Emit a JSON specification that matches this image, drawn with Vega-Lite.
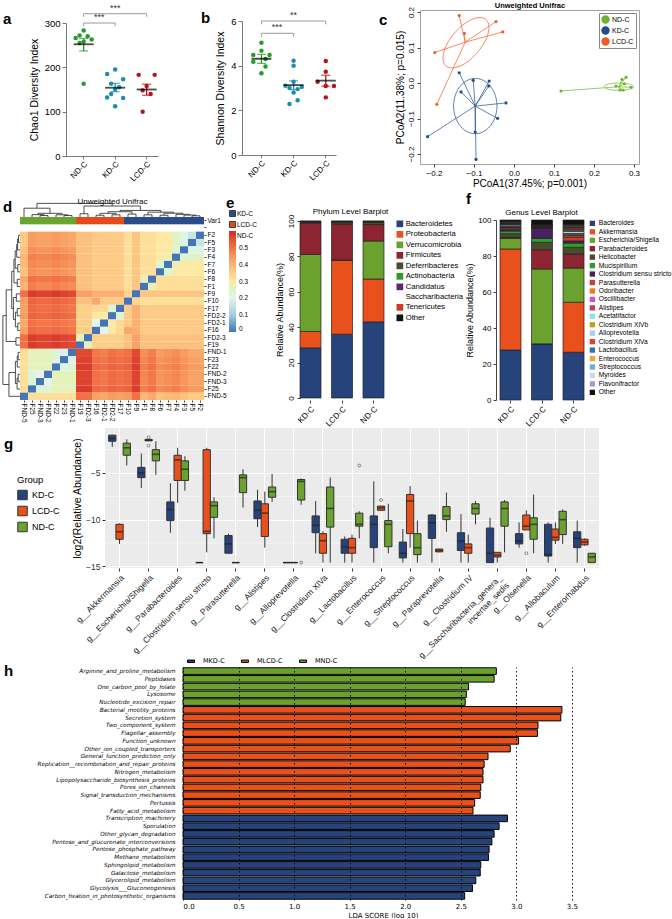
{
"$schema": "https://vega.github.io/schema/vega-lite/v6.json",
"padding": {"left": 2, "top": 0, "right": 0, "bottom": 0},
"background": "white",
"config": {
  "font": "Liberation Sans",
  "view": {"stroke": null},
  "axis": {"labelFont": "Liberation Sans", "titleFont": "Liberation Sans", "labelColor": "#000", "titleColor": "#000", "titleFontWeight": "normal", "grid": false, "domainColor": "#444", "tickColor": "#444"},
  "legend": {"labelFont": "Liberation Sans", "titleFont": "Liberation Sans", "labelColor": "#000"},
  "title": {"font": "Liberation Sans", "fontWeight": "bold", "fontSize": 15, "anchor": "start", "frame": "group", "baseline": "alphabetic", "offset": 0, "color": "#000"}
},
"datasets": {
  "sp": [{"z": 1}],
  "aPts": [
    {"g":"ND-C","v":283,"s":"3"},{"g":"ND-C","v":272,"s":"2"},{"g":"ND-C","v":266,"s":"1"},{"g":"ND-C","v":270,"s":"4"},{"g":"ND-C","v":263,"s":"5"},{"g":"ND-C","v":258,"s":"3"},{"g":"ND-C","v":255,"s":"2"},{"g":"ND-C","v":163,"s":"3"},
    {"g":"KD-C","v":195,"s":"3"},{"g":"KD-C","v":185,"s":"1"},{"g":"KD-C","v":173,"s":"5"},{"g":"KD-C","v":163,"s":"2"},{"g":"KD-C","v":155,"s":"4"},{"g":"KD-C","v":150,"s":"3"},{"g":"KD-C","v":140,"s":"2"},{"g":"KD-C","v":132,"s":"1"},{"g":"KD-C","v":131,"s":"5"},{"g":"KD-C","v":112,"s":"3"},
    {"g":"LCD-C","v":183,"s":"1"},{"g":"LCD-C","v":183,"s":"5"},{"g":"LCD-C","v":158,"s":"3"},{"g":"LCD-C","v":148,"s":"2"},{"g":"LCD-C","v":140,"s":"4"},{"g":"LCD-C","v":100,"s":"2"}
  ],
  "aSum": [{"g":"ND-C","m":252,"lo":237,"hi":265},{"g":"KD-C","m":154,"lo":145,"hi":164},{"g":"LCD-C","m":150,"lo":137,"hi":162}],
  "aBr": [{"a":"ND-C","b":"KD-C","y":300,"yd":293},{"a":"ND-C","b":"LCD-C","y":321,"yd":314}],
  "bPts": [
    {"g":"ND-C","v":5.03,"s":"3"},{"g":"ND-C","v":4.67,"s":"3"},{"g":"ND-C","v":4.48,"s":"1"},{"g":"ND-C","v":4.48,"s":"5"},{"g":"ND-C","v":4.3,"s":"4"},{"g":"ND-C","v":4.18,"s":"1"},{"g":"ND-C","v":3.96,"s":"4"},{"g":"ND-C","v":3.66,"s":"3"},
    {"g":"KD-C","v":4.22,"s":"3"},{"g":"KD-C","v":4.0,"s":"3"},{"g":"KD-C","v":3.28,"s":"3"},{"g":"KD-C","v":3.1,"s":"1"},{"g":"KD-C","v":3.05,"s":"5"},{"g":"KD-C","v":3.0,"s":"2"},{"g":"KD-C","v":2.95,"s":"4"},{"g":"KD-C","v":2.8,"s":"3"},{"g":"KD-C","v":2.45,"s":"4"},{"g":"KD-C","v":2.28,"s":"2"},
    {"g":"LCD-C","v":4.21,"s":"3"},{"g":"LCD-C","v":3.73,"s":"3"},{"g":"LCD-C","v":3.28,"s":"1"},{"g":"LCD-C","v":3.09,"s":"5"},{"g":"LCD-C","v":3.09,"s":"3"},{"g":"LCD-C","v":2.58,"s":"3"}
  ],
  "bSum": [{"g":"ND-C","m":4.31,"lo":4.1,"hi":4.51},{"g":"KD-C","m":3.13,"lo":2.93,"hi":3.32},{"g":"LCD-C","m":3.33,"lo":3.08,"hi":3.57}],
  "bBr": [{"a":"ND-C","b":"KD-C","y":5.45,"yd":5.3},{"a":"ND-C","b":"LCD-C","y":6.0,"yd":5.85}],
  "pcPts": [
    {"g":"LCD-C","x":-0.137,"y":0.19,"cx":-0.122,"cy":0.115},{"g":"LCD-C","x":-0.045,"y":0.173,"cx":-0.122,"cy":0.115},{"g":"LCD-C","x":-0.124,"y":0.14,"cx":-0.122,"cy":0.115},{"g":"LCD-C","x":-0.028,"y":0.144,"cx":-0.122,"cy":0.115},{"g":"LCD-C","x":-0.198,"y":0.086,"cx":-0.122,"cy":0.115},{"g":"LCD-C","x":-0.193,"y":-0.06,"cx":-0.122,"cy":0.115},
    {"g":"KD-C","x":-0.137,"y":0.029,"cx":-0.097,"cy":-0.065},{"g":"KD-C","x":-0.102,"y":0.0075,"cx":-0.097,"cy":-0.065},{"g":"KD-C","x":-0.062,"y":0.0056,"cx":-0.097,"cy":-0.065},{"g":"KD-C","x":-0.063,"y":-0.0085,"cx":-0.097,"cy":-0.065},{"g":"KD-C","x":-0.1325,"y":-0.025,"cx":-0.097,"cy":-0.065},{"g":"KD-C","x":-0.02,"y":-0.056,"cx":-0.097,"cy":-0.065},{"g":"KD-C","x":-0.041,"y":-0.0995,"cx":-0.097,"cy":-0.065},{"g":"KD-C","x":-0.097,"y":-0.138,"cx":-0.097,"cy":-0.065},{"g":"KD-C","x":-0.095,"y":-0.215,"cx":-0.097,"cy":-0.065},{"g":"KD-C","x":-0.216,"y":-0.151,"cx":-0.097,"cy":-0.065},
    {"g":"ND-C","x":0.1175,"y":-0.0225,"cx":0.262,"cy":-0.0104},{"g":"ND-C","x":0.28,"y":0.016,"cx":0.262,"cy":-0.0104},{"g":"ND-C","x":0.27,"y":0.0104,"cx":0.262,"cy":-0.0104},{"g":"ND-C","x":0.276,"y":-0.002,"cx":0.262,"cy":-0.0104},{"g":"ND-C","x":0.255,"y":-0.0085,"cx":0.262,"cy":-0.0104},{"g":"ND-C","x":0.265,"y":-0.0197,"cx":0.262,"cy":-0.0104},{"g":"ND-C","x":0.273,"y":-0.0197,"cx":0.262,"cy":-0.0104},{"g":"ND-C","x":0.2925,"y":-0.012,"cx":0.262,"cy":-0.0104}
  ],
  "pcEll": [
    {"g":"LCD-C","t":0,"x":-0.07,"y":0.179},{"g":"LCD-C","t":1,"x":-0.0625,"y":0.157},{"g":"LCD-C","t":2,"x":-0.07,"y":0.1225},{"g":"LCD-C","t":3,"x":-0.0915,"y":0.086},{"g":"LCD-C","t":4,"x":-0.12,"y":0.0566},{"g":"LCD-C","t":5,"x":-0.149,"y":0.043},{"g":"LCD-C","t":6,"x":-0.17,"y":0.0476},{"g":"LCD-C","t":7,"x":-0.1775,"y":0.0704},{"g":"LCD-C","t":8,"x":-0.17,"y":0.1045},{"g":"LCD-C","t":9,"x":-0.1485,"y":0.141},{"g":"LCD-C","t":10,"x":-0.12,"y":0.17},{"g":"LCD-C","t":11,"x":-0.091,"y":0.184},
    {"g":"KD-C","t":0,"x":-0.0425,"y":-0.0648},{"g":"KD-C","t":1,"x":-0.0498,"y":-0.0258},{"g":"KD-C","t":2,"x":-0.0697,"y":0.0027},{"g":"KD-C","t":3,"x":-0.0968,"y":0.0132},{"g":"KD-C","t":4,"x":-0.124,"y":0.0027},{"g":"KD-C","t":5,"x":-0.1438,"y":-0.0258},{"g":"KD-C","t":6,"x":-0.1511,"y":-0.0648},{"g":"KD-C","t":7,"x":-0.1438,"y":-0.1038},{"g":"KD-C","t":8,"x":-0.124,"y":-0.1323},{"g":"KD-C","t":9,"x":-0.0968,"y":-0.1428},{"g":"KD-C","t":10,"x":-0.0697,"y":-0.1323},{"g":"KD-C","t":11,"x":-0.0498,"y":-0.1038},
    {"g":"ND-C","t":0,"x":0.299,"y":-0.0104},{"g":"ND-C","t":1,"x":0.294,"y":-0.0052},{"g":"ND-C","t":2,"x":0.2805,"y":-0.0015},{"g":"ND-C","t":3,"x":0.262,"y":-0.0001},{"g":"ND-C","t":4,"x":0.2435,"y":-0.0015},{"g":"ND-C","t":5,"x":0.23,"y":-0.0052},{"g":"ND-C","t":6,"x":0.225,"y":-0.0104},{"g":"ND-C","t":7,"x":0.23,"y":-0.0156},{"g":"ND-C","t":8,"x":0.2435,"y":-0.0193},{"g":"ND-C","t":9,"x":0.262,"y":-0.0207},{"g":"ND-C","t":10,"x":0.2805,"y":-0.0193},{"g":"ND-C","t":11,"x":0.294,"y":-0.0156}
  ],
  "hmBar": [
    {"r":"Var1","c":"FND-5","grp":"ND-C"},{"r":"Var1","c":"F25","grp":"ND-C"},{"r":"Var1","c":"FND-3","grp":"ND-C"},{"r":"Var1","c":"FND-2","grp":"ND-C"},{"r":"Var1","c":"F22","grp":"ND-C"},{"r":"Var1","c":"F23","grp":"ND-C"},{"r":"Var1","c":"FND-1","grp":"ND-C"},
    {"r":"Var1","c":"F19","grp":"LCD-C"},{"r":"Var1","c":"FD2-3","grp":"LCD-C"},{"r":"Var1","c":"F16","grp":"LCD-C"},{"r":"Var1","c":"FD2-1","grp":"LCD-C"},{"r":"Var1","c":"FD2-2","grp":"LCD-C"},{"r":"Var1","c":"F17","grp":"LCD-C"},
    {"r":"Var1","c":"F10","grp":"KD-C"},{"r":"Var1","c":"F9","grp":"KD-C"},{"r":"Var1","c":"F1","grp":"KD-C"},{"r":"Var1","c":"F8","grp":"KD-C"},{"r":"Var1","c":"F6","grp":"KD-C"},{"r":"Var1","c":"F7","grp":"KD-C"},{"r":"Var1","c":"F4","grp":"KD-C"},{"r":"Var1","c":"F3","grp":"KD-C"},{"r":"Var1","c":"F5","grp":"KD-C"},{"r":"Var1","c":"F2","grp":"KD-C"}
  ],
  "hm": [
{"r":"F2","c":"FND-5","v":0.36},{"r":"F2","c":"F25","v":0.44},{"r":"F2","c":"FND-3","v":0.43},{"r":"F2","c":"FND-2","v":0.43},{"r":"F2","c":"F22","v":0.44},{"r":"F2","c":"F23","v":0.43},{"r":"F2","c":"FND-1","v":0.42},{"r":"F2","c":"F19","v":0.38},{"r":"F2","c":"FD2-3","v":0.38},{"r":"F2","c":"F16","v":0.36},{"r":"F2","c":"FD2-1","v":0.36},{"r":"F2","c":"FD2-2","v":0.36},{"r":"F2","c":"F17","v":0.36},{"r":"F2","c":"F10","v":0.32},{"r":"F2","c":"F9","v":0.37},{"r":"F2","c":"F1","v":0.32},{"r":"F2","c":"F8","v":0.32},{"r":"F2","c":"F6","v":0.3},{"r":"F2","c":"F7","v":0.3},{"r":"F2","c":"F4","v":0.26},{"r":"F2","c":"F3","v":0.22},{"r":"F2","c":"F5","v":0.16},{"r":"F2","c":"F2","v":0},
{"r":"F5","c":"FND-5","v":0.36},{"r":"F5","c":"F25","v":0.44},{"r":"F5","c":"FND-3","v":0.43},{"r":"F5","c":"FND-2","v":0.43},{"r":"F5","c":"F22","v":0.44},{"r":"F5","c":"F23","v":0.43},{"r":"F5","c":"FND-1","v":0.42},{"r":"F5","c":"F19","v":0.38},{"r":"F5","c":"FD2-3","v":0.38},{"r":"F5","c":"F16","v":0.36},{"r":"F5","c":"FD2-1","v":0.36},{"r":"F5","c":"FD2-2","v":0.36},{"r":"F5","c":"F17","v":0.36},{"r":"F5","c":"F10","v":0.32},{"r":"F5","c":"F9","v":0.37},{"r":"F5","c":"F1","v":0.32},{"r":"F5","c":"F8","v":0.32},{"r":"F5","c":"F6","v":0.3},{"r":"F5","c":"F7","v":0.3},{"r":"F5","c":"F4","v":0.26},{"r":"F5","c":"F3","v":0.22},{"r":"F5","c":"F5","v":0},{"r":"F5","c":"F2","v":0.16},
{"r":"F3","c":"FND-5","v":0.38},{"r":"F3","c":"F25","v":0.46},{"r":"F3","c":"FND-3","v":0.45},{"r":"F3","c":"FND-2","v":0.45},{"r":"F3","c":"F22","v":0.46},{"r":"F3","c":"F23","v":0.45},{"r":"F3","c":"FND-1","v":0.44},{"r":"F3","c":"F19","v":0.38},{"r":"F3","c":"FD2-3","v":0.38},{"r":"F3","c":"F16","v":0.36},{"r":"F3","c":"FD2-1","v":0.36},{"r":"F3","c":"FD2-2","v":0.36},{"r":"F3","c":"F17","v":0.36},{"r":"F3","c":"F10","v":0.32},{"r":"F3","c":"F9","v":0.37},{"r":"F3","c":"F1","v":0.32},{"r":"F3","c":"F8","v":0.32},{"r":"F3","c":"F6","v":0.3},{"r":"F3","c":"F7","v":0.3},{"r":"F3","c":"F4","v":0.25},{"r":"F3","c":"F3","v":0},{"r":"F3","c":"F5","v":0.22},{"r":"F3","c":"F2","v":0.22},
{"r":"F4","c":"FND-5","v":0.4},{"r":"F4","c":"F25","v":0.48},{"r":"F4","c":"FND-3","v":0.47},{"r":"F4","c":"FND-2","v":0.47},{"r":"F4","c":"F22","v":0.48},{"r":"F4","c":"F23","v":0.47},{"r":"F4","c":"FND-1","v":0.46},{"r":"F4","c":"F19","v":0.38},{"r":"F4","c":"FD2-3","v":0.38},{"r":"F4","c":"F16","v":0.36},{"r":"F4","c":"FD2-1","v":0.36},{"r":"F4","c":"FD2-2","v":0.36},{"r":"F4","c":"F17","v":0.36},{"r":"F4","c":"F10","v":0.32},{"r":"F4","c":"F9","v":0.37},{"r":"F4","c":"F1","v":0.32},{"r":"F4","c":"F8","v":0.32},{"r":"F4","c":"F6","v":0.3},{"r":"F4","c":"F7","v":0.28},{"r":"F4","c":"F4","v":0},{"r":"F4","c":"F3","v":0.25},{"r":"F4","c":"F5","v":0.26},{"r":"F4","c":"F2","v":0.26},
{"r":"F7","c":"FND-5","v":0.39},{"r":"F7","c":"F25","v":0.47},{"r":"F7","c":"FND-3","v":0.46},{"r":"F7","c":"FND-2","v":0.46},{"r":"F7","c":"F22","v":0.47},{"r":"F7","c":"F23","v":0.46},{"r":"F7","c":"FND-1","v":0.45},{"r":"F7","c":"F19","v":0.38},{"r":"F7","c":"FD2-3","v":0.38},{"r":"F7","c":"F16","v":0.36},{"r":"F7","c":"FD2-1","v":0.36},{"r":"F7","c":"FD2-2","v":0.36},{"r":"F7","c":"F17","v":0.36},{"r":"F7","c":"F10","v":0.32},{"r":"F7","c":"F9","v":0.37},{"r":"F7","c":"F1","v":0.32},{"r":"F7","c":"F8","v":0.32},{"r":"F7","c":"F6","v":0.24},{"r":"F7","c":"F7","v":0},{"r":"F7","c":"F4","v":0.28},{"r":"F7","c":"F3","v":0.3},{"r":"F7","c":"F5","v":0.3},{"r":"F7","c":"F2","v":0.3},
{"r":"F6","c":"FND-5","v":0.38},{"r":"F6","c":"F25","v":0.46},{"r":"F6","c":"FND-3","v":0.45},{"r":"F6","c":"FND-2","v":0.45},{"r":"F6","c":"F22","v":0.46},{"r":"F6","c":"F23","v":0.45},{"r":"F6","c":"FND-1","v":0.44},{"r":"F6","c":"F19","v":0.38},{"r":"F6","c":"FD2-3","v":0.38},{"r":"F6","c":"F16","v":0.36},{"r":"F6","c":"FD2-1","v":0.36},{"r":"F6","c":"FD2-2","v":0.36},{"r":"F6","c":"F17","v":0.36},{"r":"F6","c":"F10","v":0.32},{"r":"F6","c":"F9","v":0.37},{"r":"F6","c":"F1","v":0.32},{"r":"F6","c":"F8","v":0.32},{"r":"F6","c":"F6","v":0},{"r":"F6","c":"F7","v":0.24},{"r":"F6","c":"F4","v":0.3},{"r":"F6","c":"F3","v":0.3},{"r":"F6","c":"F5","v":0.3},{"r":"F6","c":"F2","v":0.3},
{"r":"F8","c":"FND-5","v":0.42},{"r":"F8","c":"F25","v":0.5},{"r":"F8","c":"FND-3","v":0.49},{"r":"F8","c":"FND-2","v":0.49},{"r":"F8","c":"F22","v":0.5},{"r":"F8","c":"F23","v":0.49},{"r":"F8","c":"FND-1","v":0.48},{"r":"F8","c":"F19","v":0.38},{"r":"F8","c":"FD2-3","v":0.38},{"r":"F8","c":"F16","v":0.36},{"r":"F8","c":"FD2-1","v":0.36},{"r":"F8","c":"FD2-2","v":0.36},{"r":"F8","c":"F17","v":0.36},{"r":"F8","c":"F10","v":0.32},{"r":"F8","c":"F9","v":0.37},{"r":"F8","c":"F1","v":0.28},{"r":"F8","c":"F8","v":0},{"r":"F8","c":"F6","v":0.32},{"r":"F8","c":"F7","v":0.32},{"r":"F8","c":"F4","v":0.32},{"r":"F8","c":"F3","v":0.32},{"r":"F8","c":"F5","v":0.32},{"r":"F8","c":"F2","v":0.32},
{"r":"F1","c":"FND-5","v":0.4},{"r":"F1","c":"F25","v":0.48},{"r":"F1","c":"FND-3","v":0.47},{"r":"F1","c":"FND-2","v":0.47},{"r":"F1","c":"F22","v":0.48},{"r":"F1","c":"F23","v":0.47},{"r":"F1","c":"FND-1","v":0.46},{"r":"F1","c":"F19","v":0.38},{"r":"F1","c":"FD2-3","v":0.38},{"r":"F1","c":"F16","v":0.36},{"r":"F1","c":"FD2-1","v":0.36},{"r":"F1","c":"FD2-2","v":0.36},{"r":"F1","c":"F17","v":0.36},{"r":"F1","c":"F10","v":0.32},{"r":"F1","c":"F9","v":0.37},{"r":"F1","c":"F1","v":0},{"r":"F1","c":"F8","v":0.28},{"r":"F1","c":"F6","v":0.32},{"r":"F1","c":"F7","v":0.32},{"r":"F1","c":"F4","v":0.32},{"r":"F1","c":"F3","v":0.32},{"r":"F1","c":"F5","v":0.32},{"r":"F1","c":"F2","v":0.32},
{"r":"F9","c":"FND-5","v":0.5},{"r":"F9","c":"F25","v":0.58},{"r":"F9","c":"FND-3","v":0.57},{"r":"F9","c":"FND-2","v":0.57},{"r":"F9","c":"F22","v":0.58},{"r":"F9","c":"F23","v":0.57},{"r":"F9","c":"FND-1","v":0.56},{"r":"F9","c":"F19","v":0.43},{"r":"F9","c":"FD2-3","v":0.43},{"r":"F9","c":"F16","v":0.41},{"r":"F9","c":"FD2-1","v":0.41},{"r":"F9","c":"FD2-2","v":0.41},{"r":"F9","c":"F17","v":0.41},{"r":"F9","c":"F10","v":0.34},{"r":"F9","c":"F9","v":0},{"r":"F9","c":"F1","v":0.37},{"r":"F9","c":"F8","v":0.37},{"r":"F9","c":"F6","v":0.37},{"r":"F9","c":"F7","v":0.37},{"r":"F9","c":"F4","v":0.37},{"r":"F9","c":"F3","v":0.37},{"r":"F9","c":"F5","v":0.37},{"r":"F9","c":"F2","v":0.37},
{"r":"F10","c":"FND-5","v":0.44},{"r":"F10","c":"F25","v":0.52},{"r":"F10","c":"FND-3","v":0.51},{"r":"F10","c":"FND-2","v":0.51},{"r":"F10","c":"F22","v":0.52},{"r":"F10","c":"F23","v":0.51},{"r":"F10","c":"FND-1","v":0.5},{"r":"F10","c":"F19","v":0.38},{"r":"F10","c":"FD2-3","v":0.38},{"r":"F10","c":"F16","v":0.42},{"r":"F10","c":"FD2-1","v":0.36},{"r":"F10","c":"FD2-2","v":0.36},{"r":"F10","c":"F17","v":0.36},{"r":"F10","c":"F10","v":0},{"r":"F10","c":"F9","v":0.34},{"r":"F10","c":"F1","v":0.32},{"r":"F10","c":"F8","v":0.32},{"r":"F10","c":"F6","v":0.32},{"r":"F10","c":"F7","v":0.32},{"r":"F10","c":"F4","v":0.32},{"r":"F10","c":"F3","v":0.32},{"r":"F10","c":"F5","v":0.32},{"r":"F10","c":"F2","v":0.32},
{"r":"F17","c":"FND-5","v":0.43},{"r":"F17","c":"F25","v":0.51},{"r":"F17","c":"FND-3","v":0.5},{"r":"F17","c":"FND-2","v":0.5},{"r":"F17","c":"F22","v":0.51},{"r":"F17","c":"F23","v":0.5},{"r":"F17","c":"FND-1","v":0.49},{"r":"F17","c":"F19","v":0.35},{"r":"F17","c":"FD2-3","v":0.35},{"r":"F17","c":"F16","v":0.33},{"r":"F17","c":"FD2-1","v":0.33},{"r":"F17","c":"FD2-2","v":0.24},{"r":"F17","c":"F17","v":0},{"r":"F17","c":"F10","v":0.36},{"r":"F17","c":"F9","v":0.41},{"r":"F17","c":"F1","v":0.36},{"r":"F17","c":"F8","v":0.36},{"r":"F17","c":"F6","v":0.36},{"r":"F17","c":"F7","v":0.36},{"r":"F17","c":"F4","v":0.36},{"r":"F17","c":"F3","v":0.36},{"r":"F17","c":"F5","v":0.36},{"r":"F17","c":"F2","v":0.36},
{"r":"FD2-2","c":"FND-5","v":0.44},{"r":"FD2-2","c":"F25","v":0.52},{"r":"FD2-2","c":"FND-3","v":0.51},{"r":"FD2-2","c":"FND-2","v":0.51},{"r":"FD2-2","c":"F22","v":0.52},{"r":"FD2-2","c":"F23","v":0.51},{"r":"FD2-2","c":"FND-1","v":0.5},{"r":"FD2-2","c":"F19","v":0.35},{"r":"FD2-2","c":"FD2-3","v":0.35},{"r":"FD2-2","c":"F16","v":0.3},{"r":"FD2-2","c":"FD2-1","v":0.3},{"r":"FD2-2","c":"FD2-2","v":0},{"r":"FD2-2","c":"F17","v":0.24},{"r":"FD2-2","c":"F10","v":0.36},{"r":"FD2-2","c":"F9","v":0.41},{"r":"FD2-2","c":"F1","v":0.36},{"r":"FD2-2","c":"F8","v":0.36},{"r":"FD2-2","c":"F6","v":0.36},{"r":"FD2-2","c":"F7","v":0.36},{"r":"FD2-2","c":"F4","v":0.36},{"r":"FD2-2","c":"F3","v":0.36},{"r":"FD2-2","c":"F5","v":0.36},{"r":"FD2-2","c":"F2","v":0.36},
{"r":"FD2-1","c":"FND-5","v":0.42},{"r":"FD2-1","c":"F25","v":0.5},{"r":"FD2-1","c":"FND-3","v":0.49},{"r":"FD2-1","c":"FND-2","v":0.49},{"r":"FD2-1","c":"F22","v":0.5},{"r":"FD2-1","c":"F23","v":0.49},{"r":"FD2-1","c":"FND-1","v":0.48},{"r":"FD2-1","c":"F19","v":0.35},{"r":"FD2-1","c":"FD2-3","v":0.35},{"r":"FD2-1","c":"F16","v":0.2},{"r":"FD2-1","c":"FD2-1","v":0},{"r":"FD2-1","c":"FD2-2","v":0.3},{"r":"FD2-1","c":"F17","v":0.33},{"r":"FD2-1","c":"F10","v":0.36},{"r":"FD2-1","c":"F9","v":0.41},{"r":"FD2-1","c":"F1","v":0.36},{"r":"FD2-1","c":"F8","v":0.36},{"r":"FD2-1","c":"F6","v":0.36},{"r":"FD2-1","c":"F7","v":0.36},{"r":"FD2-1","c":"F4","v":0.36},{"r":"FD2-1","c":"F3","v":0.36},{"r":"FD2-1","c":"F5","v":0.36},{"r":"FD2-1","c":"F2","v":0.36},
{"r":"F16","c":"FND-5","v":0.43},{"r":"F16","c":"F25","v":0.51},{"r":"F16","c":"FND-3","v":0.5},{"r":"F16","c":"FND-2","v":0.5},{"r":"F16","c":"F22","v":0.51},{"r":"F16","c":"F23","v":0.5},{"r":"F16","c":"FND-1","v":0.49},{"r":"F16","c":"F19","v":0.35},{"r":"F16","c":"FD2-3","v":0.35},{"r":"F16","c":"F16","v":0},{"r":"F16","c":"FD2-1","v":0.2},{"r":"F16","c":"FD2-2","v":0.3},{"r":"F16","c":"F17","v":0.33},{"r":"F16","c":"F10","v":0.42},{"r":"F16","c":"F9","v":0.41},{"r":"F16","c":"F1","v":0.36},{"r":"F16","c":"F8","v":0.36},{"r":"F16","c":"F6","v":0.36},{"r":"F16","c":"F7","v":0.36},{"r":"F16","c":"F4","v":0.36},{"r":"F16","c":"F3","v":0.36},{"r":"F16","c":"F5","v":0.36},{"r":"F16","c":"F2","v":0.36},
{"r":"FD2-3","c":"FND-5","v":0.5},{"r":"FD2-3","c":"F25","v":0.58},{"r":"FD2-3","c":"FND-3","v":0.57},{"r":"FD2-3","c":"FND-2","v":0.57},{"r":"FD2-3","c":"F22","v":0.58},{"r":"FD2-3","c":"F23","v":0.57},{"r":"FD2-3","c":"FND-1","v":0.56},{"r":"FD2-3","c":"F19","v":0.27},{"r":"FD2-3","c":"FD2-3","v":0},{"r":"FD2-3","c":"F16","v":0.35},{"r":"FD2-3","c":"FD2-1","v":0.35},{"r":"FD2-3","c":"FD2-2","v":0.35},{"r":"FD2-3","c":"F17","v":0.35},{"r":"FD2-3","c":"F10","v":0.38},{"r":"FD2-3","c":"F9","v":0.43},{"r":"FD2-3","c":"F1","v":0.38},{"r":"FD2-3","c":"F8","v":0.38},{"r":"FD2-3","c":"F6","v":0.38},{"r":"FD2-3","c":"F7","v":0.38},{"r":"FD2-3","c":"F4","v":0.38},{"r":"FD2-3","c":"F3","v":0.38},{"r":"FD2-3","c":"F5","v":0.38},{"r":"FD2-3","c":"F2","v":0.38},
{"r":"F19","c":"FND-5","v":0.5},{"r":"F19","c":"F25","v":0.58},{"r":"F19","c":"FND-3","v":0.57},{"r":"F19","c":"FND-2","v":0.57},{"r":"F19","c":"F22","v":0.58},{"r":"F19","c":"F23","v":0.57},{"r":"F19","c":"FND-1","v":0.56},{"r":"F19","c":"F19","v":0},{"r":"F19","c":"FD2-3","v":0.27},{"r":"F19","c":"F16","v":0.35},{"r":"F19","c":"FD2-1","v":0.35},{"r":"F19","c":"FD2-2","v":0.35},{"r":"F19","c":"F17","v":0.35},{"r":"F19","c":"F10","v":0.38},{"r":"F19","c":"F9","v":0.43},{"r":"F19","c":"F1","v":0.38},{"r":"F19","c":"F8","v":0.38},{"r":"F19","c":"F6","v":0.38},{"r":"F19","c":"F7","v":0.38},{"r":"F19","c":"F4","v":0.38},{"r":"F19","c":"F3","v":0.38},{"r":"F19","c":"F5","v":0.38},{"r":"F19","c":"F2","v":0.38},
{"r":"FND-1","c":"FND-5","v":0.32},{"r":"FND-1","c":"F25","v":0.27},{"r":"FND-1","c":"FND-3","v":0.27},{"r":"FND-1","c":"FND-2","v":0.27},{"r":"FND-1","c":"F22","v":0.24},{"r":"FND-1","c":"F23","v":0.19},{"r":"FND-1","c":"FND-1","v":0},{"r":"FND-1","c":"F19","v":0.56},{"r":"FND-1","c":"FD2-3","v":0.56},{"r":"FND-1","c":"F16","v":0.49},{"r":"FND-1","c":"FD2-1","v":0.48},{"r":"FND-1","c":"FD2-2","v":0.5},{"r":"FND-1","c":"F17","v":0.49},{"r":"FND-1","c":"F10","v":0.5},{"r":"FND-1","c":"F9","v":0.56},{"r":"FND-1","c":"F1","v":0.46},{"r":"FND-1","c":"F8","v":0.48},{"r":"FND-1","c":"F6","v":0.44},{"r":"FND-1","c":"F7","v":0.45},{"r":"FND-1","c":"F4","v":0.46},{"r":"FND-1","c":"F3","v":0.44},{"r":"FND-1","c":"F5","v":0.42},{"r":"FND-1","c":"F2","v":0.42},
{"r":"F23","c":"FND-5","v":0.32},{"r":"F23","c":"F25","v":0.27},{"r":"F23","c":"FND-3","v":0.27},{"r":"F23","c":"FND-2","v":0.27},{"r":"F23","c":"F22","v":0.22},{"r":"F23","c":"F23","v":0},{"r":"F23","c":"FND-1","v":0.19},{"r":"F23","c":"F19","v":0.57},{"r":"F23","c":"FD2-3","v":0.57},{"r":"F23","c":"F16","v":0.5},{"r":"F23","c":"FD2-1","v":0.49},{"r":"F23","c":"FD2-2","v":0.51},{"r":"F23","c":"F17","v":0.5},{"r":"F23","c":"F10","v":0.51},{"r":"F23","c":"F9","v":0.57},{"r":"F23","c":"F1","v":0.47},{"r":"F23","c":"F8","v":0.49},{"r":"F23","c":"F6","v":0.45},{"r":"F23","c":"F7","v":0.46},{"r":"F23","c":"F4","v":0.47},{"r":"F23","c":"F3","v":0.45},{"r":"F23","c":"F5","v":0.43},{"r":"F23","c":"F2","v":0.43},
{"r":"F22","c":"FND-5","v":0.32},{"r":"F22","c":"F25","v":0.27},{"r":"F22","c":"FND-3","v":0.27},{"r":"F22","c":"FND-2","v":0.27},{"r":"F22","c":"F22","v":0},{"r":"F22","c":"F23","v":0.22},{"r":"F22","c":"FND-1","v":0.24},{"r":"F22","c":"F19","v":0.58},{"r":"F22","c":"FD2-3","v":0.58},{"r":"F22","c":"F16","v":0.51},{"r":"F22","c":"FD2-1","v":0.5},{"r":"F22","c":"FD2-2","v":0.52},{"r":"F22","c":"F17","v":0.51},{"r":"F22","c":"F10","v":0.52},{"r":"F22","c":"F9","v":0.58},{"r":"F22","c":"F1","v":0.48},{"r":"F22","c":"F8","v":0.5},{"r":"F22","c":"F6","v":0.46},{"r":"F22","c":"F7","v":0.47},{"r":"F22","c":"F4","v":0.48},{"r":"F22","c":"F3","v":0.46},{"r":"F22","c":"F5","v":0.44},{"r":"F22","c":"F2","v":0.44},
{"r":"FND-2","c":"FND-5","v":0.32},{"r":"FND-2","c":"F25","v":0.24},{"r":"FND-2","c":"FND-3","v":0.2},{"r":"FND-2","c":"FND-2","v":0},{"r":"FND-2","c":"F22","v":0.27},{"r":"FND-2","c":"F23","v":0.27},{"r":"FND-2","c":"FND-1","v":0.27},{"r":"FND-2","c":"F19","v":0.57},{"r":"FND-2","c":"FD2-3","v":0.57},{"r":"FND-2","c":"F16","v":0.5},{"r":"FND-2","c":"FD2-1","v":0.49},{"r":"FND-2","c":"FD2-2","v":0.51},{"r":"FND-2","c":"F17","v":0.5},{"r":"FND-2","c":"F10","v":0.51},{"r":"FND-2","c":"F9","v":0.57},{"r":"FND-2","c":"F1","v":0.47},{"r":"FND-2","c":"F8","v":0.49},{"r":"FND-2","c":"F6","v":0.45},{"r":"FND-2","c":"F7","v":0.46},{"r":"FND-2","c":"F4","v":0.47},{"r":"FND-2","c":"F3","v":0.45},{"r":"FND-2","c":"F5","v":0.43},{"r":"FND-2","c":"F2","v":0.43},
{"r":"FND-3","c":"FND-5","v":0.32},{"r":"FND-3","c":"F25","v":0.24},{"r":"FND-3","c":"FND-3","v":0},{"r":"FND-3","c":"FND-2","v":0.2},{"r":"FND-3","c":"F22","v":0.27},{"r":"FND-3","c":"F23","v":0.27},{"r":"FND-3","c":"FND-1","v":0.27},{"r":"FND-3","c":"F19","v":0.57},{"r":"FND-3","c":"FD2-3","v":0.57},{"r":"FND-3","c":"F16","v":0.5},{"r":"FND-3","c":"FD2-1","v":0.49},{"r":"FND-3","c":"FD2-2","v":0.51},{"r":"FND-3","c":"F17","v":0.5},{"r":"FND-3","c":"F10","v":0.51},{"r":"FND-3","c":"F9","v":0.57},{"r":"FND-3","c":"F1","v":0.47},{"r":"FND-3","c":"F8","v":0.49},{"r":"FND-3","c":"F6","v":0.45},{"r":"FND-3","c":"F7","v":0.46},{"r":"FND-3","c":"F4","v":0.47},{"r":"FND-3","c":"F3","v":0.45},{"r":"FND-3","c":"F5","v":0.43},{"r":"FND-3","c":"F2","v":0.43},
{"r":"F25","c":"FND-5","v":0.32},{"r":"F25","c":"F25","v":0},{"r":"F25","c":"FND-3","v":0.24},{"r":"F25","c":"FND-2","v":0.24},{"r":"F25","c":"F22","v":0.27},{"r":"F25","c":"F23","v":0.27},{"r":"F25","c":"FND-1","v":0.27},{"r":"F25","c":"F19","v":0.58},{"r":"F25","c":"FD2-3","v":0.58},{"r":"F25","c":"F16","v":0.51},{"r":"F25","c":"FD2-1","v":0.5},{"r":"F25","c":"FD2-2","v":0.52},{"r":"F25","c":"F17","v":0.51},{"r":"F25","c":"F10","v":0.52},{"r":"F25","c":"F9","v":0.58},{"r":"F25","c":"F1","v":0.48},{"r":"F25","c":"F8","v":0.5},{"r":"F25","c":"F6","v":0.46},{"r":"F25","c":"F7","v":0.47},{"r":"F25","c":"F4","v":0.48},{"r":"F25","c":"F3","v":0.46},{"r":"F25","c":"F5","v":0.44},{"r":"F25","c":"F2","v":0.44},
{"r":"FND-5","c":"FND-5","v":0},{"r":"FND-5","c":"F25","v":0.32},{"r":"FND-5","c":"FND-3","v":0.32},{"r":"FND-5","c":"FND-2","v":0.32},{"r":"FND-5","c":"F22","v":0.32},{"r":"FND-5","c":"F23","v":0.32},{"r":"FND-5","c":"FND-1","v":0.32},{"r":"FND-5","c":"F19","v":0.5},{"r":"FND-5","c":"FD2-3","v":0.5},{"r":"FND-5","c":"F16","v":0.43},{"r":"FND-5","c":"FD2-1","v":0.42},{"r":"FND-5","c":"FD2-2","v":0.44},{"r":"FND-5","c":"F17","v":0.43},{"r":"FND-5","c":"F10","v":0.44},{"r":"FND-5","c":"F9","v":0.5},{"r":"FND-5","c":"F1","v":0.4},{"r":"FND-5","c":"F8","v":0.42},{"r":"FND-5","c":"F6","v":0.38},{"r":"FND-5","c":"F7","v":0.39},{"r":"FND-5","c":"F4","v":0.4},{"r":"FND-5","c":"F3","v":0.38},{"r":"FND-5","c":"F5","v":0.36},{"r":"FND-5","c":"F2","v":0.36}
  ],
  "dendro": [
{"h":0.08,"p":0,"h2":0.08,"p2":1},{"h":0,"p":0,"h2":0.08,"p2":0},{"h":0,"p":1,"h2":0.08,"p2":1},
{"h":0.13,"p":0.5,"h2":0.13,"p2":2},{"h":0.08,"p":0.5,"h2":0.13,"p2":0.5},{"h":0,"p":2,"h2":0.13,"p2":2},
{"h":0.18,"p":1.25,"h2":0.18,"p2":3},{"h":0.13,"p":1.25,"h2":0.18,"p2":1.25},{"h":0,"p":3,"h2":0.18,"p2":3},
{"h":0.12,"p":4,"h2":0.12,"p2":5},{"h":0,"p":4,"h2":0.12,"p2":4},{"h":0,"p":5,"h2":0.12,"p2":5},
{"h":0.26,"p":2.125,"h2":0.26,"p2":4.5},{"h":0.18,"p":2.125,"h2":0.26,"p2":2.125},{"h":0.12,"p":4.5,"h2":0.26,"p2":4.5},
{"h":0.15,"p":6,"h2":0.15,"p2":7},{"h":0,"p":6,"h2":0.15,"p2":6},{"h":0,"p":7,"h2":0.15,"p2":7},
{"h":0.33,"p":3.31,"h2":0.33,"p2":6.5},{"h":0.26,"p":3.31,"h2":0.33,"p2":3.31},{"h":0.15,"p":6.5,"h2":0.33,"p2":6.5},
{"h":0.2,"p":8,"h2":0.2,"p2":9},{"h":0,"p":8,"h2":0.2,"p2":8},{"h":0,"p":9,"h2":0.2,"p2":9},
{"h":0.15,"p":10,"h2":0.15,"p2":11},{"h":0,"p":10,"h2":0.15,"p2":10},{"h":0,"p":11,"h2":0.15,"p2":11},
{"h":0.12,"p":12,"h2":0.12,"p2":13},{"h":0,"p":12,"h2":0.12,"p2":12},{"h":0,"p":13,"h2":0.12,"p2":13},
{"h":0.25,"p":10.5,"h2":0.25,"p2":12.5},{"h":0.15,"p":10.5,"h2":0.25,"p2":10.5},{"h":0.12,"p":12.5,"h2":0.25,"p2":12.5},
{"h":0.36,"p":8.5,"h2":0.36,"p2":11.5},{"h":0.2,"p":8.5,"h2":0.36,"p2":8.5},{"h":0.25,"p":11.5,"h2":0.36,"p2":11.5},
{"h":0.45,"p":4.91,"h2":0.45,"p2":10},{"h":0.33,"p":4.91,"h2":0.45,"p2":4.91},{"h":0.36,"p":10,"h2":0.45,"p2":10},
{"h":0.22,"p":14,"h2":0.22,"p2":15},{"h":0,"p":14,"h2":0.22,"p2":14},{"h":0,"p":15,"h2":0.22,"p2":15},
{"h":0.75,"p":7.45,"h2":0.75,"p2":14.5},{"h":0.45,"p":7.45,"h2":0.75,"p2":7.45},{"h":0.22,"p":14.5,"h2":0.75,"p2":14.5},
{"h":0.1,"p":16,"h2":0.1,"p2":17},{"h":0,"p":16,"h2":0.1,"p2":16},{"h":0,"p":17,"h2":0.1,"p2":17},
{"h":0.15,"p":16.5,"h2":0.15,"p2":18},{"h":0.1,"p":16.5,"h2":0.15,"p2":16.5},{"h":0,"p":18,"h2":0.15,"p2":18},
{"h":0.1,"p":19,"h2":0.1,"p2":20},{"h":0,"p":19,"h2":0.1,"p2":19},{"h":0,"p":20,"h2":0.1,"p2":20},
{"h":0.16,"p":19.5,"h2":0.16,"p2":21},{"h":0.1,"p":19.5,"h2":0.16,"p2":19.5},{"h":0,"p":21,"h2":0.16,"p2":21},
{"h":0.25,"p":17.25,"h2":0.25,"p2":20.25},{"h":0.15,"p":17.25,"h2":0.25,"p2":17.25},{"h":0.16,"p":20.25,"h2":0.25,"p2":20.25},
{"h":0.6,"p":18.75,"h2":0.6,"p2":22},{"h":0.25,"p":18.75,"h2":0.6,"p2":18.75},{"h":0,"p":22,"h2":0.6,"p2":22},
{"h":0.93,"p":10.98,"h2":0.93,"p2":20.38},{"h":0.75,"p":10.98,"h2":0.93,"p2":10.98},{"h":0.6,"p":20.38,"h2":0.93,"p2":20.38}
  ],
  "phy": [
    {"grp":"KD-C","phy":"Bacteroidetes","k":1,"pct":28.3},{"grp":"KD-C","phy":"Proteobacteria","k":2,"pct":9.3},{"grp":"KD-C","phy":"Verrucomicrobia","k":3,"pct":43.5},{"grp":"KD-C","phy":"Firmicutes","k":4,"pct":17.7},{"grp":"KD-C","phy":"Deferribacteres","k":5,"pct":0.7},{"grp":"KD-C","phy":"Actinobacteria","k":6,"pct":0.1},{"grp":"KD-C","phy":"Candidatus Saccharibacteria","k":7,"pct":0.1},{"grp":"KD-C","phy":"Tenericutes","k":8,"pct":0.1},{"grp":"KD-C","phy":"Other","k":9,"pct":0.2},
    {"grp":"LCD-C","phy":"Bacteroidetes","k":1,"pct":36.0},{"grp":"LCD-C","phy":"Proteobacteria","k":2,"pct":41.8},{"grp":"LCD-C","phy":"Verrucomicrobia","k":3,"pct":0.2},{"grp":"LCD-C","phy":"Firmicutes","k":4,"pct":20.2},{"grp":"LCD-C","phy":"Deferribacteres","k":5,"pct":1.3},{"grp":"LCD-C","phy":"Actinobacteria","k":6,"pct":0.1},{"grp":"LCD-C","phy":"Candidatus Saccharibacteria","k":7,"pct":0.1},{"grp":"LCD-C","phy":"Tenericutes","k":8,"pct":0.1},{"grp":"LCD-C","phy":"Other","k":9,"pct":0.2},
    {"grp":"ND-C","phy":"Bacteroidetes","k":1,"pct":43.0},{"grp":"ND-C","phy":"Proteobacteria","k":2,"pct":24.2},{"grp":"ND-C","phy":"Verrucomicrobia","k":3,"pct":21.5},{"grp":"ND-C","phy":"Firmicutes","k":4,"pct":9.3},{"grp":"ND-C","phy":"Deferribacteres","k":5,"pct":1.2},{"grp":"ND-C","phy":"Actinobacteria","k":6,"pct":0.3},{"grp":"ND-C","phy":"Candidatus Saccharibacteria","k":7,"pct":0.2},{"grp":"ND-C","phy":"Tenericutes","k":8,"pct":0.1},{"grp":"ND-C","phy":"Other","k":9,"pct":0.2}
  ],
  "gen": [
    {"grp":"KD-C","gen":"Bacteroides","k":1,"pct":27.8},{"grp":"KD-C","gen":"Akkermansia","k":2,"pct":56.1},{"grp":"KD-C","gen":"Escherichia/Shigella","k":3,"pct":5.9},{"grp":"KD-C","gen":"Parabacteroides","k":4,"pct":0.6},{"grp":"KD-C","gen":"Helicobacter","k":5,"pct":2.0},{"grp":"KD-C","gen":"Mucispirillum","k":6,"pct":1.5},{"grp":"KD-C","gen":"Clostridium sensu stricto","k":7,"pct":1.0},{"grp":"KD-C","gen":"Parasutterella","k":8,"pct":0.8},{"grp":"KD-C","gen":"Odoribacter","k":9,"pct":0.2},{"grp":"KD-C","gen":"Oscillibacter","k":10,"pct":0.2},{"grp":"KD-C","gen":"Alistipes","k":11,"pct":0.3},{"grp":"KD-C","gen":"Acetatifactor","k":12,"pct":0.8},{"grp":"KD-C","gen":"Clostridium XlVb","k":13,"pct":0.3},{"grp":"KD-C","gen":"Alloprevotella","k":14,"pct":0.2},{"grp":"KD-C","gen":"Clostridium XlVa","k":15,"pct":0.5},{"grp":"KD-C","gen":"Lactobacillus","k":16,"pct":0.2},{"grp":"KD-C","gen":"Enterococcus","k":17,"pct":0.1},{"grp":"KD-C","gen":"Streptococcus","k":18,"pct":0.2},{"grp":"KD-C","gen":"Myroides","k":19,"pct":0.1},{"grp":"KD-C","gen":"Flavonifractor","k":20,"pct":0.2},{"grp":"KD-C","gen":"Other","k":21,"pct":1.0},
    {"grp":"LCD-C","gen":"Bacteroides","k":1,"pct":31.1},{"grp":"LCD-C","gen":"Akkermansia","k":2,"pct":0.1},{"grp":"LCD-C","gen":"Escherichia/Shigella","k":3,"pct":41.6},{"grp":"LCD-C","gen":"Parabacteroides","k":4,"pct":10.7},{"grp":"LCD-C","gen":"Helicobacter","k":5,"pct":4.1},{"grp":"LCD-C","gen":"Mucispirillum","k":6,"pct":2.2},{"grp":"LCD-C","gen":"Clostridium sensu stricto","k":7,"pct":5.6},{"grp":"LCD-C","gen":"Parasutterella","k":8,"pct":0.2},{"grp":"LCD-C","gen":"Odoribacter","k":9,"pct":0.2},{"grp":"LCD-C","gen":"Oscillibacter","k":10,"pct":0.1},{"grp":"LCD-C","gen":"Alistipes","k":11,"pct":0.2},{"grp":"LCD-C","gen":"Acetatifactor","k":12,"pct":0.2},{"grp":"LCD-C","gen":"Clostridium XlVb","k":13,"pct":0.1},{"grp":"LCD-C","gen":"Alloprevotella","k":14,"pct":0.1},{"grp":"LCD-C","gen":"Clostridium XlVa","k":15,"pct":0.3},{"grp":"LCD-C","gen":"Lactobacillus","k":16,"pct":0.1},{"grp":"LCD-C","gen":"Enterococcus","k":17,"pct":0.1},{"grp":"LCD-C","gen":"Streptococcus","k":18,"pct":0.1},{"grp":"LCD-C","gen":"Myroides","k":19,"pct":0.1},{"grp":"LCD-C","gen":"Flavonifractor","k":20,"pct":0.1},{"grp":"LCD-C","gen":"Other","k":21,"pct":2.7},
    {"grp":"ND-C","gen":"Bacteroides","k":1,"pct":26.5},{"grp":"ND-C","gen":"Akkermansia","k":2,"pct":27.8},{"grp":"ND-C","gen":"Escherichia/Shigella","k":3,"pct":19.0},{"grp":"ND-C","gen":"Parabacteroides","k":4,"pct":7.8},{"grp":"ND-C","gen":"Helicobacter","k":5,"pct":3.7},{"grp":"ND-C","gen":"Mucispirillum","k":6,"pct":2.4},{"grp":"ND-C","gen":"Clostridium sensu stricto","k":7,"pct":1.2},{"grp":"ND-C","gen":"Parasutterella","k":8,"pct":2.0},{"grp":"ND-C","gen":"Odoribacter","k":9,"pct":0.8},{"grp":"ND-C","gen":"Oscillibacter","k":10,"pct":0.5},{"grp":"ND-C","gen":"Alistipes","k":11,"pct":0.8},{"grp":"ND-C","gen":"Acetatifactor","k":12,"pct":1.2},{"grp":"ND-C","gen":"Clostridium XlVb","k":13,"pct":0.6},{"grp":"ND-C","gen":"Alloprevotella","k":14,"pct":0.5},{"grp":"ND-C","gen":"Clostridium XlVa","k":15,"pct":0.8},{"grp":"ND-C","gen":"Lactobacillus","k":16,"pct":0.3},{"grp":"ND-C","gen":"Enterococcus","k":17,"pct":0.3},{"grp":"ND-C","gen":"Streptococcus","k":18,"pct":0.3},{"grp":"ND-C","gen":"Myroides","k":19,"pct":0.4},{"grp":"ND-C","gen":"Flavonifractor","k":20,"pct":0.4},{"grp":"ND-C","gen":"Other","k":21,"pct":2.7}
  ],
  "box": [
    {"gen":"g__Akkermansia","grp":"KD-C","lo":-2.2,"q1":-1.6,"med":-1.3,"q3":-0.95,"hi":-0.9},{"gen":"g__Akkermansia","grp":"LCD-C","lo":-12.6,"q1":-12.1,"med":-11.3,"q3":-10.5,"hi":-10.4},{"gen":"g__Akkermansia","grp":"ND-C","lo":-4.2,"q1":-3.1,"med":-2.3,"q3":-1.8,"hi":-1.4},
    {"gen":"g__Escherichia/Shigella","grp":"KD-C","lo":-6.6,"q1":-5.5,"med":-5.0,"q3":-4.4,"hi":-2.9},{"gen":"g__Escherichia/Shigella","grp":"LCD-C","lo":-1.6,"q1":-1.55,"med":-1.5,"q3":-1.4,"hi":-1.35},{"gen":"g__Escherichia/Shigella","grp":"ND-C","lo":-5.2,"q1":-3.7,"med":-3.0,"q3":-2.5,"hi":-1.6},
    {"gen":"g__Parabacteroides","grp":"KD-C","lo":-11.4,"q1":-10.1,"med":-8.9,"q3":-8.1,"hi":-6.1},{"gen":"g__Parabacteroides","grp":"LCD-C","lo":-8.2,"q1":-5.8,"med":-3.6,"q3":-3.1,"hi":-2.3},{"gen":"g__Parabacteroides","grp":"ND-C","lo":-6.9,"q1":-5.8,"med":-4.6,"q3":-3.7,"hi":-3.2},
    {"gen":"g__Clostridium sensu stricto","grp":"KD-C","lo":-14.6,"q1":-14.6,"med":-14.6,"q3":-14.6,"hi":-14.6},{"gen":"g__Clostridium sensu stricto","grp":"LCD-C","lo":-13.5,"q1":-11.5,"med":-11.25,"q3":-2.5,"hi":-2.3},{"gen":"g__Clostridium sensu stricto","grp":"ND-C","lo":-12.0,"q1":-9.75,"med":-8.5,"q3":-8.1,"hi":-7.6},
    {"gen":"g__Parasutterella","grp":"KD-C","lo":-13.6,"q1":-13.6,"med":-12.6,"q3":-11.7,"hi":-11.5},{"gen":"g__Parasutterella","grp":"LCD-C","lo":-14.6,"q1":-14.6,"med":-14.6,"q3":-14.6,"hi":-14.6},{"gen":"g__Parasutterella","grp":"ND-C","lo":-8.7,"q1":-7.1,"med":-5.5,"q3":-5.2,"hi":-4.6},
    {"gen":"g__Alistipes","grp":"KD-C","lo":-10.8,"q1":-9.9,"med":-9.0,"q3":-8.0,"hi":-6.8},{"gen":"g__Alistipes","grp":"LCD-C","lo":-13.0,"q1":-11.8,"med":-9.3,"q3":-8.3,"hi":-7.0},{"gen":"g__Alistipes","grp":"ND-C","lo":-8.1,"q1":-7.6,"med":-7.0,"q3":-6.5,"hi":-5.1},
    {"gen":"g__Alloprevotella","grp":"KD-C","lo":-14.6,"q1":-14.6,"med":-14.6,"q3":-14.6,"hi":-14.6},{"gen":"g__Alloprevotella","grp":"LCD-C","lo":-14.6,"q1":-14.6,"med":-14.6,"q3":-14.6,"hi":-14.6},{"gen":"g__Alloprevotella","grp":"ND-C","lo":-8.4,"q1":-7.9,"med":-5.9,"q3":-5.7,"hi":-5.6},
    {"gen":"g__Clostridium XlVa","grp":"KD-C","lo":-13.6,"q1":-11.4,"med":-10.6,"q3":-9.6,"hi":-8.0},{"gen":"g__Clostridium XlVa","grp":"LCD-C","lo":-14.6,"q1":-13.6,"med":-12.25,"q3":-11.5,"hi":-11.25},{"gen":"g__Clostridium XlVa","grp":"ND-C","lo":-14.6,"q1":-10.8,"med":-8.8,"q3":-6.5,"hi":-5.5},
    {"gen":"g__Lactobacillus","grp":"KD-C","lo":-14.6,"q1":-13.6,"med":-12.9,"q3":-12.1,"hi":-11.8},{"gen":"g__Lactobacillus","grp":"LCD-C","lo":-14.6,"q1":-13.6,"med":-13.0,"q3":-12.0,"hi":-11.6},{"gen":"g__Lactobacillus","grp":"ND-C","lo":-12.0,"q1":-10.7,"med":-10.5,"q3":-9.3,"hi":-9.1},
    {"gen":"g__Enterococcus","grp":"KD-C","lo":-14.6,"q1":-13.0,"med":-10.5,"q3":-9.6,"hi":-5.9},{"gen":"g__Enterococcus","grp":"LCD-C","lo":-9.0,"q1":-9.0,"med":-8.75,"q3":-8.55,"hi":-8.5},{"gen":"g__Enterococcus","grp":"ND-C","lo":-13.6,"q1":-12.9,"med":-10.5,"q3":-10.1,"hi":-8.3},
    {"gen":"g__Streptococcus","grp":"KD-C","lo":-14.6,"q1":-14.1,"med":-13.6,"q3":-12.4,"hi":-11.0},{"gen":"g__Streptococcus","grp":"LCD-C","lo":-13.0,"q1":-11.5,"med":-8.0,"q3":-7.3,"hi":-6.4},{"gen":"g__Streptococcus","grp":"ND-C","lo":-14.6,"q1":-13.75,"med":-13.0,"q3":-11.5,"hi":-10.1},
    {"gen":"g__Paraprevotella","grp":"KD-C","lo":-14.6,"q1":-12.0,"med":-10.35,"q3":-9.5,"hi":-9.4},{"gen":"g__Paraprevotella","grp":"LCD-C","lo":-13.5,"q1":-13.45,"med":-13.3,"q3":-13.15,"hi":-13.1},{"gen":"g__Paraprevotella","grp":"ND-C","lo":-11.3,"q1":-10.0,"med":-9.6,"q3":-8.6,"hi":-7.1},
    {"gen":"g__Clostridium IV","grp":"KD-C","lo":-14.6,"q1":-13.3,"med":-12.3,"q3":-11.4,"hi":-9.4},{"gen":"g__Clostridium IV","grp":"LCD-C","lo":-14.6,"q1":-13.6,"med":-13.0,"q3":-12.6,"hi":-11.6},{"gen":"g__Clostridium IV","grp":"ND-C","lo":-10.5,"q1":-9.4,"med":-8.8,"q3":-8.3,"hi":-8.0},
    {"gen":"g__Saccharibacteria_genera_incertae_sedis","grp":"KD-C","lo":-14.6,"q1":-14.6,"med":-13.6,"q3":-10.9,"hi":-9.8},{"gen":"g__Saccharibacteria_genera_incertae_sedis","grp":"LCD-C","lo":-14.6,"q1":-14.0,"med":-13.8,"q3":-13.5,"hi":-13.5},{"gen":"g__Saccharibacteria_genera_incertae_sedis","grp":"ND-C","lo":-13.5,"q1":-10.7,"med":-8.8,"q3":-8.1,"hi":-7.9},
    {"gen":"g__Olsenella","grp":"KD-C","lo":-13.0,"q1":-12.6,"med":-12.3,"q3":-11.5,"hi":-10.3},{"gen":"g__Olsenella","grp":"LCD-C","lo":-11.1,"q1":-11.1,"med":-10.7,"q3":-9.5,"hi":-9.0},{"gen":"g__Olsenella","grp":"ND-C","lo":-13.6,"q1":-12.1,"med":-10.5,"q3":-9.8,"hi":-7.3},
    {"gen":"g__Allobaculum","grp":"KD-C","lo":-14.6,"q1":-13.9,"med":-13.75,"q3":-10.5,"hi":-10.3},{"gen":"g__Allobaculum","grp":"LCD-C","lo":-12.6,"q1":-12.2,"med":-11.9,"q3":-11.0,"hi":-10.3},{"gen":"g__Allobaculum","grp":"ND-C","lo":-12.6,"q1":-11.6,"med":-10.0,"q3":-9.1,"hi":-8.9},
    {"gen":"g__Enterorhabdus","grp":"KD-C","lo":-14.6,"q1":-13.0,"med":-12.0,"q3":-11.3,"hi":-10.1},{"gen":"g__Enterorhabdus","grp":"LCD-C","lo":-12.8,"q1":-12.7,"med":-12.4,"q3":-12.1,"hi":-12.0},{"gen":"g__Enterorhabdus","grp":"ND-C","lo":-14.6,"q1":-14.6,"med":-14.0,"q3":-13.6,"hi":-13.6}
  ],
  "outl": [
    {"gen":"g__Escherichia/Shigella","grp":"LCD-C","v":-1.17},{"gen":"g__Escherichia/Shigella","grp":"LCD-C","v":-2.07},{"gen":"g__Alloprevotella","grp":"ND-C","v":-14.6},{"gen":"g__Lactobacillus","grp":"ND-C","v":-4.2},{"gen":"g__Enterococcus","grp":"LCD-C","v":-7.9},{"gen":"g__Olsenella","grp":"LCD-C","v":-13.6}
  ],
  "lda": [
    {"f":"Arginine_and_proline_metabolism","grp":"MND-C","lda":2.82},{"f":"Peptidases","grp":"MND-C","lda":2.8},{"f":"One_carbon_pool_by_folate","grp":"MND-C","lda":2.57},{"f":"Lysosome","grp":"MND-C","lda":2.55},{"f":"Nucleotide_excision_repair","grp":"MND-C","lda":2.54},
    {"f":"Bacterial_motility_proteins","grp":"MLCD-C","lda":3.41},{"f":"Secretion_system","grp":"MLCD-C","lda":3.4},{"f":"Two_component_system","grp":"MLCD-C","lda":3.195},{"f":"Flagellar_assembly","grp":"MLCD-C","lda":3.19},{"f":"Function_unknown","grp":"MLCD-C","lda":3.02},{"f":"Other_ion_coupled_transporters","grp":"MLCD-C","lda":2.945},{"f":"General_function_prediction_only","grp":"MLCD-C","lda":2.745},{"f":"Replication__recombination_and_repair_proteins","grp":"MLCD-C","lda":2.71},{"f":"Nitrogen_metabolism","grp":"MLCD-C","lda":2.7},{"f":"Lipopolysaccharide_biosynthesis_proteins","grp":"MLCD-C","lda":2.7},{"f":"Pores_ion_channels","grp":"MLCD-C","lda":2.68},{"f":"Signal_transduction_mechanisms","grp":"MLCD-C","lda":2.675},{"f":"Pertussis","grp":"MLCD-C","lda":2.625},{"f":"Fatty_acid_metabolism","grp":"MLCD-C","lda":2.61},
    {"f":"Transcription_machinery","grp":"MKD-C","lda":2.92},{"f":"Sporulation","grp":"MKD-C","lda":2.845},{"f":"Other_glycan_degradation","grp":"MKD-C","lda":2.8},{"f":"Pentose_and_glucuronate_interconversions","grp":"MKD-C","lda":2.78},{"f":"Pentose_phosphate_pathway","grp":"MKD-C","lda":2.755},{"f":"Methane_metabolism","grp":"MKD-C","lda":2.75},{"f":"Sphingolipid_metabolism","grp":"MKD-C","lda":2.68},{"f":"Galactose_metabolism","grp":"MKD-C","lda":2.675},{"f":"Glycerolipid_metabolism","grp":"MKD-C","lda":2.635},{"f":"Glycolysis___Gluconeogenesis","grp":"MKD-C","lda":2.605},{"f":"Carbon_fixation_in_photosynthetic_organisms","grp":"MKD-C","lda":2.535}
  ],
  "gridMinor": [{"v":-12.5},{"v":-7.5},{"v":-2.5}]
},
"spacing": -13,
"resolve": {"scale": {"color": "independent", "x": "independent", "y": "independent", "xOffset": "independent"}, "legend": {"color": "independent"}},
"vconcat": [
 {"spacing": 3,
  "resolve": {"scale": {"color": "independent", "x": "independent", "y": "independent", "xOffset": "independent"}, "legend": {"color": "independent"}},
  "vconcat": [
     {"bounds": "flush", "spacing": 0,
      "resolve": {"scale": {"color": "independent", "x": "independent", "y": "independent", "xOffset": "independent"}, "legend": {"color": "independent"}},
      "hconcat": [
       {"width": 63, "height": 1, "data": {"name": "sp"}, "mark": {"type": "point", "opacity": 0}},
       {"width": 92, "height": 146,
        "title": {"text": "a", "dx": -63, "dy": 27},
        "layer": [
         {"data": {"name": "aSum"}, "mark": {"type": "rule", "strokeWidth": 1.3},
          "encoding": {
           "x": {"field": "g", "type": "nominal", "scale": {"type": "band", "domain": ["ND-C","KD-C","LCD-C"], "paddingInner": 0.365, "paddingOuter": 0.143, "align": 0.85}, "axis": {"title": null, "labelAngle": -45, "labelFontSize": 8, "tickSize": 3, "labelPadding": 1, "domainColor": "#777", "tickColor": "#777"}},
           "y": {"field": "lo", "type": "quantitative", "scale": {"domain": [0, 300], "range": [146, 13], "nice": false}, "axis": {"values": [0,100,200,300], "title": "Chao1 Diversity Index", "titleFontSize": 10.5, "labelFontSize": 9.5, "tickSize": 4, "titlePadding": 5, "domainColor": "#777", "tickColor": "#777"}},
           "y2": {"field": "hi"},
           "color": {"field": "g", "type": "nominal", "scale": {"domain": ["ND-C","KD-C","LCD-C"], "range": ["#249b2b","#1b8db3","#b3161c"]}, "legend": null}
          }},
         {"data": {"name": "aSum"}, "mark": {"type": "tick", "size": 9, "thickness": 1.3},
          "encoding": {"x": {"field": "g", "type": "nominal"}, "y": {"field": "lo", "type": "quantitative"}, "color": {"field": "g", "type": "nominal", "legend": null}}},
         {"data": {"name": "aSum"}, "mark": {"type": "tick", "size": 9, "thickness": 1.3},
          "encoding": {"x": {"field": "g", "type": "nominal"}, "y": {"field": "hi", "type": "quantitative"}, "color": {"field": "g", "type": "nominal", "legend": null}}},
         {"data": {"name": "aPts"}, "mark": {"type": "circle", "size": 20, "opacity": 1},
          "encoding": {"x": {"field": "g", "type": "nominal"}, "xOffset": {"field": "s", "type": "nominal", "scale": {"domain": ["1","2","3","4","5"]}}, "y": {"field": "v", "type": "quantitative"}, "color": {"field": "g", "type": "nominal", "legend": null}}},
         {"data": {"name": "aSum"}, "mark": {"type": "tick", "size": 20, "thickness": 1.8, "color": "#000"},
          "encoding": {"x": {"field": "g", "type": "nominal"}, "y": {"field": "m", "type": "quantitative"}}},
         {"data": {"name": "aBr"}, "mark": {"type": "rule", "color": "#9a9a9a", "strokeWidth": 1},
          "encoding": {"x": {"field": "a", "type": "nominal"}, "x2": {"field": "b"}, "y": {"field": "y", "type": "quantitative"}}},
         {"data": {"name": "aBr"}, "mark": {"type": "rule", "color": "#9a9a9a", "strokeWidth": 1},
          "encoding": {"x": {"field": "a", "type": "nominal"}, "y": {"field": "y", "type": "quantitative"}, "y2": {"field": "yd"}}},
         {"data": {"name": "aBr"}, "mark": {"type": "rule", "color": "#9a9a9a", "strokeWidth": 1},
          "encoding": {"x": {"field": "b", "type": "nominal"}, "y": {"field": "y", "type": "quantitative"}, "y2": {"field": "yd"}}},
         {"data": {"values": [{"x": "ND-C", "y": 300, "t": "***"}]}, "mark": {"type": "text", "dx": 15.5, "dy": -1, "baseline": "bottom", "fontSize": 9, "color": "#333"},
          "encoding": {"x": {"field": "x", "type": "nominal"}, "y": {"field": "y", "type": "quantitative"}, "text": {"field": "t"}}},
         {"data": {"values": [{"x": "KD-C", "y": 321, "t": "***"}]}, "mark": {"type": "text", "dy": -1, "baseline": "bottom", "fontSize": 9, "color": "#333"},
          "encoding": {"x": {"field": "x", "type": "nominal"}, "y": {"field": "y", "type": "quantitative"}, "text": {"field": "t"}}}
        ]},
       {"width": 84, "height": 1, "data": {"name": "sp"}, "mark": {"type": "point", "opacity": 0}},
       {"width": 94, "height": 145,
        "title": {"text": "b", "dx": -41, "dy": 20},
        "layer": [
         {"data": {"name": "bSum"}, "mark": {"type": "rule", "strokeWidth": 1.3},
          "encoding": {
           "x": {"field": "g", "type": "nominal", "scale": {"type": "band", "domain": ["ND-C","KD-C","LCD-C"], "paddingInner": 0.365, "paddingOuter": 0.143, "align": 1}, "axis": {"title": null, "labelAngle": -45, "labelFontSize": 8, "tickSize": 3, "labelPadding": 1, "domainColor": "#777", "tickColor": "#777"}},
           "y": {"field": "lo", "type": "quantitative", "scale": {"domain": [0, 6], "range": [145, 11], "nice": false}, "axis": {"values": [0,2,4,6], "title": "Shannon Diversity Index", "titleFontSize": 10.5, "labelFontSize": 9.5, "tickSize": 4, "titlePadding": 5, "domainColor": "#777", "tickColor": "#777"}},
           "y2": {"field": "hi"},
           "color": {"field": "g", "type": "nominal", "scale": {"domain": ["ND-C","KD-C","LCD-C"], "range": ["#249b2b","#1b8db3","#b3161c"]}, "legend": null}
          }},
         {"data": {"name": "bSum"}, "mark": {"type": "tick", "size": 9, "thickness": 1.3},
          "encoding": {"x": {"field": "g", "type": "nominal"}, "y": {"field": "lo", "type": "quantitative"}, "color": {"field": "g", "type": "nominal", "legend": null}}},
         {"data": {"name": "bSum"}, "mark": {"type": "tick", "size": 9, "thickness": 1.3},
          "encoding": {"x": {"field": "g", "type": "nominal"}, "y": {"field": "hi", "type": "quantitative"}, "color": {"field": "g", "type": "nominal", "legend": null}}},
         {"data": {"name": "bPts"}, "mark": {"type": "circle", "size": 20, "opacity": 1},
          "encoding": {"x": {"field": "g", "type": "nominal"}, "xOffset": {"field": "s", "type": "nominal", "scale": {"domain": ["1","2","3","4","5"]}}, "y": {"field": "v", "type": "quantitative"}, "color": {"field": "g", "type": "nominal", "legend": null}}},
         {"data": {"name": "bSum"}, "mark": {"type": "tick", "size": 20, "thickness": 1.8, "color": "#000"},
          "encoding": {"x": {"field": "g", "type": "nominal"}, "y": {"field": "m", "type": "quantitative"}}},
         {"data": {"name": "bBr"}, "mark": {"type": "rule", "color": "#9a9a9a", "strokeWidth": 1},
          "encoding": {"x": {"field": "a", "type": "nominal"}, "x2": {"field": "b"}, "y": {"field": "y", "type": "quantitative"}}},
         {"data": {"name": "bBr"}, "mark": {"type": "rule", "color": "#9a9a9a", "strokeWidth": 1},
          "encoding": {"x": {"field": "a", "type": "nominal"}, "y": {"field": "y", "type": "quantitative"}, "y2": {"field": "yd"}}},
         {"data": {"name": "bBr"}, "mark": {"type": "rule", "color": "#9a9a9a", "strokeWidth": 1},
          "encoding": {"x": {"field": "b", "type": "nominal"}, "y": {"field": "y", "type": "quantitative"}, "y2": {"field": "yd"}}},
         {"data": {"values": [{"x": "ND-C", "y": 5.45, "t": "***"}]}, "mark": {"type": "text", "dx": 15.5, "dy": -1, "baseline": "bottom", "fontSize": 9, "color": "#333"},
          "encoding": {"x": {"field": "x", "type": "nominal"}, "y": {"field": "y", "type": "quantitative"}, "text": {"field": "t"}}},
         {"data": {"values": [{"x": "KD-C", "y": 6.0, "t": "**"}]}, "mark": {"type": "text", "dy": -1, "baseline": "bottom", "fontSize": 9, "color": "#333"},
          "encoding": {"x": {"field": "x", "type": "nominal"}, "y": {"field": "y", "type": "quantitative"}, "text": {"field": "t"}}}
        ]},
       {"width": 84, "height": 1, "data": {"name": "sp"}, "mark": {"type": "point", "opacity": 0}},
       {"width": 219, "height": 154,
        "view": {"stroke": "#a0a0a0", "strokeWidth": 1},
        "title": {"text": "c", "dx": -41, "dy": 31},
        "resolve": {"axis": {"x": "independent"}},
        "layer": [
         {"data": {"name": "pcPts"}, "mark": {"type": "circle", "size": 10, "opacity": 1},
          "encoding": {
           "x": {"field": "x", "type": "quantitative", "scale": {"domain": [-0.235, 0.3125], "nice": false, "zero": false}, "axis": {"values": [-0.2,-0.1,0,0.1,0.2,0.3], "format": ".1f", "labelFontSize": 8, "tickSize": 3, "domain": false, "title": "PCoA1(37.45%; p=0.001)", "titleFontSize": 10, "titlePadding": 1}},
           "y": {"field": "y", "type": "quantitative", "scale": {"domain": [-0.228, 0.2056], "nice": false, "zero": false}, "axis": {"values": [-0.2,-0.1,0,0.1,0.2], "format": ".1f", "labelAngle": -90, "labelFontSize": 8, "tickSize": 3, "domain": false, "title": "PCoA2(11.38%; p=0.015)", "titleFontSize": 10, "titlePadding": 2}},
           "color": {"field": "g", "type": "nominal", "scale": {"domain": ["ND-C","KD-C","LCD-C"], "range": ["#6cb42c","#1f4e8c","#f25c24"]}, "legend": {"orient": "top-right", "title": null, "symbolType": "circle", "symbolSize": 70, "symbolStrokeWidth": 0, "labelFontSize": 7, "strokeColor": "#888", "fillColor": "#fff", "padding": 2, "offset": 3, "rowPadding": 2, "labelOffset": 2}}
          }},
         {"data": {"name": "pcPts"}, "mark": {"type": "rule", "strokeWidth": 0.7},
          "encoding": {
           "x": {"field": "cx", "type": "quantitative", "axis": {"orient": "top", "title": "Unweighted Unifrac", "labels": false, "ticks": false, "domain": false, "titleFontWeight": "bold", "titleFontSize": 7.5, "titlePadding": 1}},
           "x2": {"field": "x"},
           "y": {"field": "cy", "type": "quantitative", "axis": {"values": [-0.2,-0.1,0,0.1,0.2], "format": ".1f", "labelAngle": -90, "labelFontSize": 8, "tickSize": 3, "domain": false, "title": "PCoA2(11.38%; p=0.015)", "titleFontSize": 10, "titlePadding": 2}},
           "y2": {"field": "y"},
           "color": {"field": "g", "type": "nominal"}
          }},
         {"data": {"name": "pcEll"}, "mark": {"type": "line", "strokeWidth": 0.7, "interpolate": "cardinal-closed"},
          "encoding": {
           "x": {"field": "x", "type": "quantitative", "axis": null},
           "y": {"field": "y", "type": "quantitative", "axis": {"values": [-0.2,-0.1,0,0.1,0.2], "format": ".1f", "labelAngle": -90, "labelFontSize": 8, "tickSize": 3, "domain": false, "title": "PCoA2(11.38%; p=0.015)", "titleFontSize": 10, "titlePadding": 2}},
           "color": {"field": "g", "type": "nominal"},
           "order": {"field": "t", "type": "quantitative"}
          }}
        ]}
      ]},
   {"bounds": "flush", "spacing": 0,
    "resolve": {"scale": {"color": "independent", "x": "independent", "y": "independent", "xOffset": "independent"}, "legend": {"color": "independent"}},
    "hconcat": [
     {"width": 17, "height": 1, "data": {"name": "sp"}, "mark": {"type": "point", "opacity": 0}},
     {"width": 184, "height": 183,
      "title": {"text": "d", "dx": -17, "dy": 22},
      "resolve": {"scale": {"x": "independent", "y": "independent", "color": "independent"}, "axis": {"x": "independent", "y": "independent"}, "legend": {"color": "independent"}},
      "layer": [
       {"data": {"name": "hmBar"}, "mark": {"type": "rect"},
        "encoding": {
         "x": {"field": "c", "type": "nominal", "scale": {"domain": ["FND-5","F25","FND-3","FND-2","F22","F23","FND-1","F19","FD2-3","F16","FD2-1","FD2-2","F17","F10","F9","F1","F8","F6","F7","F4","F3","F5","F2"], "paddingInner": 0, "paddingOuter": 0}, "axis": {"orient": "top", "title": "Unweighted Unifrac", "labels": false, "ticks": false, "domain": false, "titleFontSize": 8, "titlePadding": 12}},
         "y": {"field": "r", "type": "nominal", "scale": {"domain": ["Var1"," ","F2","F5","F3","F4","F7","F6","F8","F1","F9","F10","F17","FD2-2","FD2-1","F16","FD2-3","F19","FND-1","F23","F22","FND-2","FND-3","F25","FND-5"], "paddingInner": 0, "paddingOuter": 0}, "axis": null},
         "color": {"field": "grp", "type": "nominal", "scale": {"domain": ["KD-C","LCD-C","ND-C"], "range": ["#2b4b8c","#e54b1a","#6aa531"]}, "legend": {"orient": "none", "legendX": 209, "legendY": -7, "title": null, "symbolType": "square", "symbolSize": 36, "symbolStrokeColor": "#222", "symbolStrokeWidth": 0.8, "labelFontSize": 6.5, "rowPadding": 0, "labelOffset": 1}}
        }},
       {"data": {"name": "hm"}, "mark": {"type": "rect"},
        "encoding": {
         "x": {"field": "c", "type": "nominal", "scale": {"domain": ["FND-5","F25","FND-3","FND-2","F22","F23","FND-1","F19","FD2-3","F16","FD2-1","FD2-2","F17","F10","F9","F1","F8","F6","F7","F4","F3","F5","F2"], "paddingInner": 0, "paddingOuter": 0}, "axis": {"orient": "bottom", "title": null, "labelAngle": 90, "labelFontSize": 6.5, "domain": false, "tickSize": 2, "labelPadding": 1}},
         "y": {"field": "r", "type": "nominal", "scale": {"domain": ["Var1"," ","F2","F5","F3","F4","F7","F6","F8","F1","F9","F10","F17","FD2-2","FD2-1","F16","FD2-3","F19","FND-1","F23","F22","FND-2","FND-3","F25","FND-5"], "paddingInner": 0, "paddingOuter": 0}, "axis": {"orient": "right", "title": null, "labelFontSize": 6.5, "domain": false, "tickSize": 2, "labelPadding": 1}},
         "color": {"field": "v", "type": "quantitative", "scale": {"domain": [0,0.1,0.2,0.3,0.4,0.5,0.6], "range": ["#4575b4","#a3cde3","#e6f3ee","#fee9a4","#fcb677","#f27046","#d42a26"]}, "legend": {"orient": "none", "legendX": 209, "legendY": 14, "title": null, "gradientLength": 101, "gradientThickness": 7, "labelFontSize": 6.5, "values": [0,0.1,0.2,0.3,0.4,0.5], "format": ".1~f", "direction": "vertical", "labelOffset": 3}}
        }},
       {"data": {"name": "dendro"}, "mark": {"type": "rule", "strokeWidth": 0.8, "color": "#222"},
        "encoding": {
         "x": {"field": "h", "type": "quantitative", "scale": {"domain": [-10, 0], "reverse": true, "nice": false, "zero": false}, "axis": null},
         "x2": {"field": "h2"},
         "y": {"field": "p", "type": "quantitative", "scale": {"domain": [-2.5, 22.5], "reverse": true, "nice": false, "zero": false}, "axis": null},
         "y2": {"field": "p2"}
        }},
       {"data": {"name": "dendro"}, "mark": {"type": "rule", "strokeWidth": 0.8, "color": "#222"},
        "encoding": {
         "x": {"field": "p", "type": "quantitative", "scale": {"domain": [-0.5, 22.5], "reverse": true, "nice": false, "zero": false}, "axis": null},
         "x2": {"field": "p2"},
         "y": {"field": "h", "type": "quantitative", "scale": {"domain": [-12.5, 0], "nice": false, "zero": false}, "axis": null},
         "y2": {"field": "h2"}
        }}
      ]},
     {"width": 96, "height": 1, "data": {"name": "sp"}, "mark": {"type": "point", "opacity": 0}},
     {"width": 100, "height": 183,
      "title": {"text": "e", "dx": -74, "dy": 8},
      "resolve": {"axis": {"x": "independent"}},
      "layer": [
       {"data": {"name": "phy"}, "mark": {"type": "bar", "stroke": "#222", "strokeWidth": 0.7},
        "encoding": {
         "x": {"field": "grp", "type": "nominal", "scale": {"domain": ["KD-C","LCD-C","ND-C"], "paddingInner": 0.333, "paddingOuter": 0.254, "align": 0}, "axis": {"title": null, "labelAngle": -45, "labelFontSize": 8, "tickSize": 3, "domain": false, "labelPadding": 2}},
         "y": {"field": "pct", "type": "quantitative", "stack": "zero", "scale": {"domain": [0, 100], "range": [181, 4], "nice": false}, "axis": {"values": [0,20,40,60,80,100], "labelAngle": -90, "labelFontSize": 8, "tickSize": 3, "title": "Relative Abundance(%)", "titleFontSize": 9, "titlePadding": 3}},
         "color": {"field": "phy", "type": "nominal", "scale": {"domain": ["Bacteroidetes","Proteobacteria","Verrucomicrobia","Firmicutes","Deferribacteres","Actinobacteria","Candidatus Saccharibacteria","Tenericutes","Other"], "range": ["#27437c","#e8501c","#6ba22f","#8c2432","#4a4a2e","#2aa02a","#5a2a6a","#d03a2a","#111111"]}, "legend": {"orient": "none", "legendX": 96, "legendY": 3, "title": null, "symbolType": "square", "symbolSize": 45, "symbolStrokeWidth": 0, "labelFontSize": 7.7, "rowPadding": 1.5, "labelOffset": 2, "labelExpr": "datum.label == 'Candidatus Saccharibacteria' ? ['Candidatus', 'Saccharibacteria'] : datum.label"}},
         "order": {"field": "k", "type": "quantitative"}
        }},
       {"data": {"name": "phy"}, "mark": {"type": "tick", "opacity": 0},
        "encoding": {"x": {"field": "grp", "type": "nominal", "axis": {"orient": "top", "title": "Phylum Level Barplot", "labels": false, "ticks": false, "domain": false, "titleFontSize": 8, "titlePadding": 2}}}}
      ]},
     {"width": 96, "height": 1, "data": {"name": "sp"}, "mark": {"type": "point", "opacity": 0}},
     {"width": 90, "height": 183,
      "title": {"text": "f", "dx": -30, "dy": 3},
      "resolve": {"axis": {"x": "independent"}},
      "layer": [
       {"data": {"name": "gen"}, "mark": {"type": "bar", "stroke": "#222", "strokeWidth": 0.7},
        "encoding": {
         "x": {"field": "grp", "type": "nominal", "scale": {"domain": ["KD-C","LCD-C","ND-C"], "paddingInner": 0.333, "paddingOuter": 0.095, "align": 0.67}, "axis": {"title": null, "labelAngle": -45, "labelFontSize": 8, "tickSize": 3, "domain": false, "labelPadding": 2}},
         "y": {"field": "pct", "type": "quantitative", "stack": "zero", "scale": {"domain": [0, 100], "range": [183, 3], "nice": false}, "axis": {"values": [0,20,40,60,80,100], "labelFontSize": 8, "tickSize": 3, "title": "Relative Abundance(%)", "titleFontSize": 9, "titlePadding": 3}},
         "color": {"field": "gen", "type": "nominal", "scale": {"domain": ["Bacteroides","Akkermansia","Escherichia/Shigella","Parabacteroides","Helicobacter","Mucispirillum","Clostridium sensu stricto","Parasutterella","Odoribacter","Oscillibacter","Alistipes","Acetatifactor","Clostridium XlVb","Alloprevotella","Clostridium XlVa","Lactobacillus","Enterococcus","Streptococcus","Myroides","Flavonifractor","Other"], "range": ["#27437c","#e8501c","#6ba22f","#8c2432","#4a4a2e","#2aa02a","#4a2060","#d03a2a","#f07820","#d050d0","#c04060","#90e0e8","#c0a020","#a8d0e8","#e04030","#3070b0","#f8a030","#70a8d8","#d0d8e8","#a898d0","#111111"]}, "legend": {"orient": "none", "legendX": 93, "legendY": 3, "title": null, "symbolType": "square", "symbolSize": 28, "symbolStrokeWidth": 0, "labelFontSize": 6.7, "rowPadding": 0.45, "labelOffset": 3}},
         "order": {"field": "k", "type": "quantitative"}
        }},
       {"data": {"name": "gen"}, "mark": {"type": "tick", "opacity": 0},
        "encoding": {"x": {"field": "grp", "type": "nominal", "axis": {"orient": "top", "title": "Genus Level Barplot", "labels": false, "ticks": false, "domain": false, "titleFontSize": 8, "titlePadding": 1}}}}
      ]}
    ]}
  ]},
 {"spacing": -20,
  "resolve": {"scale": {"color": "independent", "x": "independent", "y": "independent", "xOffset": "independent"}, "legend": {"color": "independent"}},
  "vconcat": [
   {"bounds": "flush", "spacing": 0,
    "resolve": {"scale": {"color": "independent", "x": "independent", "y": "independent", "xOffset": "independent"}, "legend": {"color": "independent"}},
    "hconcat": [
     {"width": 102, "height": 1, "data": {"name": "sp"}, "mark": {"type": "point", "opacity": 0}},
     {"width": 494, "height": 140,
      "view": {"fill": "#ebebeb", "stroke": null},
      "title": {"text": "g", "dx": -101, "dy": 28},
      "layer": [
       {"data": {"name": "gridMinor"}, "mark": {"type": "rule", "color": "#ffffff", "strokeWidth": 0.5},
        "encoding": {"y": {"field": "v", "type": "quantitative", "scale": {"domain": [-15.18, -0.18], "nice": false, "zero": false}, "axis": {"values": [-15,-10,-5], "grid": true, "gridColor": "#ffffff", "gridWidth": 1, "domain": false, "tickSize": 3, "tickColor": "#333", "labelColor": "#333", "labelFontSize": 8.5, "title": "log2(Relative Abundance)", "titleFontSize": 10.5, "titlePadding": 3}}}},
       {"data": {"name": "box"}, "mark": {"type": "rule", "color": "#333", "strokeWidth": 1},
        "encoding": {
         "x": {"field": "gen", "type": "nominal", "sort": null, "scale": {"type": "band", "paddingInner": 0.25, "paddingOuter": 0.125}, "axis": {"title": null, "labelAngle": -45, "labelFontSize": 8.5, "labelColor": "#222", "tickSize": 3, "tickColor": "#333", "domain": false, "grid": true, "gridColor": "#ffffff", "gridWidth": 1, "labelPadding": 2, "labelLimit": 220, "labelExpr": "datum.value == 'g__Saccharibacteria_genera_incertae_sedis' ? ['g__Saccharibacteria_genera_', 'incertae_sedis'] : datum.label"}},
         "xOffset": {"field": "grp", "type": "nominal", "scale": {"domain": ["KD-C","LCD-C","ND-C"]}},
         "y": {"field": "lo", "type": "quantitative"},
         "y2": {"field": "hi"}
        }},
       {"data": {"name": "box"}, "mark": {"type": "bar", "stroke": "#333", "strokeWidth": 1},
        "encoding": {
         "x": {"field": "gen", "type": "nominal", "sort": null},
         "xOffset": {"field": "grp", "type": "nominal"},
         "y": {"field": "q1", "type": "quantitative"},
         "y2": {"field": "q3"},
         "color": {"field": "grp", "type": "nominal", "scale": {"domain": ["KD-C","LCD-C","ND-C"], "range": ["#27437c","#e8501c","#6ba22f"]}, "legend": {"orient": "none", "legendX": -88, "legendY": 47, "title": "Group", "titleFontSize": 9.5, "titleFontWeight": "normal", "labelFontSize": 9, "symbolType": "square", "symbolSize": 90, "symbolStrokeColor": "#333", "symbolStrokeWidth": 1, "rowPadding": 1}}
        }},
       {"data": {"name": "box"}, "mark": {"type": "tick", "color": "#222", "thickness": 1.6, "size": 7},
        "encoding": {
         "x": {"field": "gen", "type": "nominal", "sort": null},
         "xOffset": {"field": "grp", "type": "nominal"},
         "y": {"field": "med", "type": "quantitative"}
        }},
       {"data": {"name": "outl"}, "mark": {"type": "point", "shape": "circle", "size": 8, "filled": false, "color": "#333", "strokeWidth": 0.8},
        "encoding": {
         "x": {"field": "gen", "type": "nominal", "sort": null},
         "xOffset": {"field": "grp", "type": "nominal"},
         "y": {"field": "v", "type": "quantitative"}
        }}
      ]}
    ]},
   {"bounds": "flush", "spacing": 0,
    "resolve": {"scale": {"color": "independent", "x": "independent", "y": "independent", "xOffset": "independent"}, "legend": {"color": "independent"}},
    "hconcat": [
     {"width": 180, "height": 1, "data": {"name": "sp"}, "mark": {"type": "point", "opacity": 0}},
     {"width": 400, "height": 233,
      "title": {"text": "h", "dx": -179, "dy": 29.5},
      "data": {"name": "lda"},
      "mark": {"type": "bar", "stroke": "#000", "strokeWidth": 1},
      "encoding": {
       "y": {"field": "f", "type": "nominal", "sort": null, "scale": {"paddingInner": 0.15, "paddingOuter": 0.1}, "axis": {"title": null, "labelFont": "DejaVu Sans", "labelFontStyle": "italic", "labelFontSize": 5.7, "ticks": false, "domain": false, "labelPadding": 8}},
       "x": {"field": "lda", "type": "quantitative", "scale": {"domain": [0, 3.6], "nice": false}, "axis": {"values": [0,0.5,1,1.5,2,2.5,3,3.5], "format": ".1f", "grid": true, "gridDash": [1.5, 2.5], "gridColor": "#000", "gridWidth": 0.9, "zindex": 1, "domain": false, "ticks": false, "labelFont": "DejaVu Sans", "labelFontSize": 7, "title": "LDA SCORE (log 10)", "titleFont": "DejaVu Sans", "titleFontSize": 7, "titlePadding": 2}},
       "color": {"field": "grp", "type": "nominal", "scale": {"domain": ["MKD-C","MLCD-C","MND-C"], "range": ["#27437c","#e8501c","#6ba22f"]}, "legend": {"orient": "top", "direction": "horizontal", "title": null, "symbolType": "M-0.5,-0.17H0.5V0.17H-0.5Z", "symbolSize": 200, "symbolStrokeColor": "#000", "symbolStrokeWidth": 1, "labelFontSize": 6.5, "labelFont": "DejaVu Sans", "columnPadding": 12, "offset": 2}}
      }}
    ]}
  ]}
]
}
